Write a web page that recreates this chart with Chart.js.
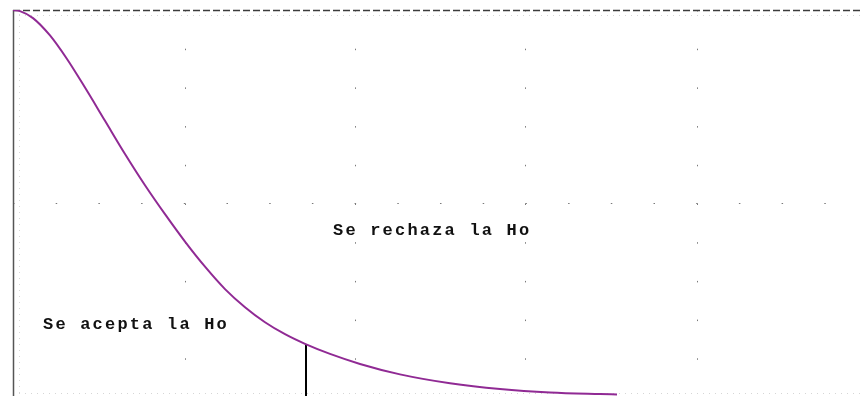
<!DOCTYPE html>
<html>
<head>
<meta charset="utf-8">
<script src="https://cdn.jsdelivr.net/npm/chart.js@4.4.1/dist/chart.umd.min.js"></script>
<style>
  html, body { margin: 0; padding: 0; background: #fff; }
  #grafico { display: block; }
</style>
</head>
<body>
<canvas id="grafico" width="860" height="396"></canvas>
<script>
// curva de densidad
const xCurva = [0, 0.07, 0.20, 0.37, 0.54, 0.72, 0.92, 1.12, 1.32, 1.52, 1.72, 1.92, 2.12, 2.32,
  2.52, 2.72, 2.92, 3.17, 3.47, 3.87, 4.37, 4.87, 5.37, 5.87, 6.04];
const yCurva = [1.000, 0.997, 0.979, 0.934, 0.873, 0.799, 0.713, 0.627, 0.546, 0.471, 0.400, 0.335, 0.277, 0.230,
  0.191, 0.160, 0.135, 0.109, 0.083, 0.056, 0.033, 0.018, 0.009, 0.005, 0.004];

// valor crítico
const valorCritico = 2.93;
const alturaCritica = 0.134;

// rejilla punteada
const columnasRejilla = [1.72, 3.42, 5.12, 6.84];
const filasRejilla = [0.5];

// textos
const textos = ['Se rechaza la Ho', 'Se acepta la Ho'];
const textosX = [3.2, 0.3];
const textosY = [0.427, 0.184];

const puntosCurva = xCurva.map((x, i) => ({ x: x, y: yCurva[i] }));

const marcoYTextos = {
  id: 'marcoYTextos',
  beforeDatasetsDraw(chart) {
    const ctx = chart.ctx;
    const sx = chart.scales.x;
    const sy = chart.scales.y;
    const area = chart.chartArea;
    ctx.save();

    // puntos de la rejilla
    ctx.strokeStyle = '#7a7a7a';
    ctx.lineWidth = 1;
    ctx.setLineDash([1.5, 37.2]);
    columnasRejilla.forEach(c => {
      const px = Math.round(sx.getPixelForValue(c)) + 0.5;
      ctx.beginPath();
      ctx.moveTo(px, area.top);
      ctx.lineTo(px, area.bottom);
      ctx.stroke();
    });
    ctx.setLineDash([1.5, 41.2]);
    filasRejilla.forEach(f => {
      const py = Math.round(sy.getPixelForValue(f)) + 0.5;
      ctx.beginPath();
      ctx.moveTo(area.left, py);
      ctx.lineTo(area.right, py);
      ctx.stroke();
    });

    // puntos tenues junto a los bordes
    ctx.strokeStyle = '#d6d6d6';
    ctx.setLineDash([1, 5]);
    ctx.beginPath();
    ctx.moveTo(area.left + 6.5, area.top + 4);
    ctx.lineTo(area.left + 6.5, area.bottom);
    ctx.moveTo(area.left, area.top + 5.5);
    ctx.lineTo(area.right, area.top + 5.5);
    ctx.moveTo(area.left, area.bottom - 2.5);
    ctx.lineTo(area.right, area.bottom - 2.5);
    ctx.stroke();

    // línea superior discontinua
    ctx.strokeStyle = '#3c3c3c';
    ctx.lineWidth = 1.5;
    ctx.setLineDash([7, 3]);
    ctx.beginPath();
    ctx.moveTo(area.left, area.top + 0.5);
    ctx.lineTo(area.right, area.top + 0.5);
    ctx.stroke();

    // eje izquierdo
    ctx.setLineDash([]);
    ctx.strokeStyle = '#555555';
    ctx.lineWidth = 1.5;
    ctx.beginPath();
    ctx.moveTo(area.left + 0.5, area.top);
    ctx.lineTo(area.left + 0.5, area.bottom);
    ctx.stroke();
    ctx.restore();
  },
  afterDatasetsDraw(chart) {
    const ctx = chart.ctx;
    const sx = chart.scales.x;
    const sy = chart.scales.y;
    ctx.save();
    ctx.fillStyle = '#111111';
    ctx.font = 'bold 17px "Liberation Mono", "DejaVu Sans Mono", monospace';
    ctx.letterSpacing = '2.2px';
    ctx.textBaseline = 'middle';
    ctx.textAlign = 'left';
    textos.forEach((t, i) => {
      ctx.fillText(t, sx.getPixelForValue(textosX[i]), sy.getPixelForValue(textosY[i]));
    });
    ctx.restore();
  }
};

new Chart(document.getElementById('grafico'), {
  type: 'line',
  data: {
    datasets: [
      {
        data: puntosCurva,
        borderColor: '#902a94',
        borderWidth: 2,
        pointRadius: 0,
        fill: false,
        cubicInterpolationMode: 'monotone'
      },
      {
        data: [{ x: valorCritico, y: 0 }, { x: valorCritico, y: alturaCritica }],
        borderColor: '#000000',
        borderWidth: 2,
        pointRadius: 0,
        fill: false
      }
    ]
  },
  options: {
    responsive: false,
    animation: false,
    events: [],
    layout: { padding: { left: 13, top: 10, right: 0, bottom: 0 } },
    scales: {
      x: { type: 'linear', min: 0, max: 8.47, display: false },
      y: { type: 'linear', min: 0, max: 1, display: false }
    },
    plugins: {
      legend: { display: false },
      title: { display: false },
      tooltip: { enabled: false }
    }
  },
  plugins: [marcoYTextos]
});
</script>
</body>
</html>
